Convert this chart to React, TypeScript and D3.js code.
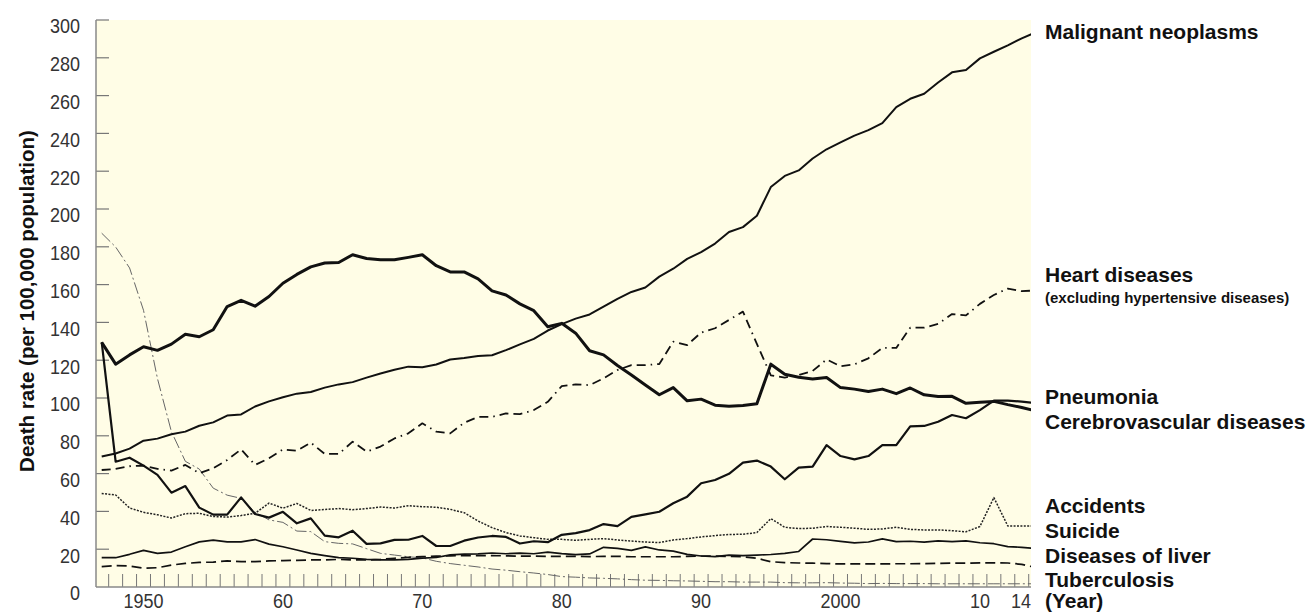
import React from "react";
import * as d3 from "d3";

const years: number[] = d3.range(1947, 2015);

const malignant: number[] = [
  69.0, 70.6, 73.2, 77.4, 78.5, 80.8, 82.2, 85.3, 87.1, 90.7, 91.3, 95.5, 98.2, 100.4, 102.3, 103.2, 105.5, 107.2, 108.4, 110.8,
  113.0, 114.9, 116.6, 116.3, 117.7, 120.4, 121.2, 122.2, 122.6, 125.3, 128.4, 131.3, 135.7, 139.1, 142.0, 144.2, 148.3, 152.5,
  156.1, 158.5, 164.2, 168.4, 173.6, 177.2, 181.7, 187.8, 190.4, 196.4, 211.6, 217.5, 220.4, 226.7, 231.6, 235.2, 238.8, 241.7,
  245.4, 253.9, 258.3, 261.0, 266.9, 272.3, 273.5, 279.7, 283.2, 286.6, 290.3, 293.5,
];

const cerebrovascular: number[] = [
  129.4, 117.9, 122.8, 127.1, 125.2, 128.5, 133.7, 132.4, 136.1, 148.4, 151.7, 148.6, 153.7, 160.7, 165.4, 169.4, 171.4, 171.7,
  175.8, 173.8, 173.1, 173.1, 174.4, 175.8, 170.0, 166.7, 166.7, 163.0, 156.7, 154.5, 149.8, 146.2, 137.7, 139.5, 134.3, 125.0,
  122.8, 117.2, 112.2, 106.9, 101.7, 105.5, 98.5, 99.4, 96.2, 95.6, 96.0, 96.9, 117.9, 112.6, 111.0, 110.0, 110.8, 105.5, 104.7,
  103.4, 104.7, 102.3, 105.3, 101.7, 100.8, 100.9, 97.2, 97.7, 98.2, 96.5, 95.0, 93.2,
];

const pneumonia: number[] = [
  129.6, 66.3, 68.4, 64.2, 59.3, 49.9, 53.4, 42.0, 38.3, 38.3, 47.4, 38.6, 36.7, 39.8, 33.7, 36.3, 27.2, 26.3, 29.8, 22.8, 23.1,
  24.9, 25.0, 27.0, 21.7, 21.7, 24.5, 26.2, 27.0, 26.5, 23.0, 24.2, 23.7, 27.6, 28.5, 30.1, 33.3, 32.2, 37.1, 38.4, 39.8, 44.3,
  47.8, 54.9, 56.6, 59.9, 65.8, 66.9, 63.7, 57.0, 63.2, 63.7, 75.1, 69.3, 67.5, 69.3, 75.1, 75.1, 85.0, 85.2, 87.4, 91.0, 89.3,
  93.6, 98.6, 98.6, 98.1, 97.3,
];

const heart: number[] = [
  61.9, 62.5, 63.9, 64.2, 62.5, 61.6, 64.6, 60.2, 62.8, 67.2, 72.8, 64.6, 68.1, 72.8, 72.1, 76.4, 70.4, 70.4, 76.9, 71.6, 74.3,
  78.6, 81.3, 86.6, 82.2, 81.3, 86.9, 90.0, 90.0, 91.8, 91.5, 93.6, 98.0, 106.3, 107.2, 106.8, 110.4, 114.8, 117.4, 117.4, 118.0,
  129.8, 128.0, 134.6, 136.9, 141.3, 145.7, 128.6, 112.0, 110.8, 112.2, 114.3, 120.4, 116.8, 117.8, 121.0, 126.5, 126.5, 137.2,
  137.2, 139.2, 144.4, 143.7, 149.8, 154.5, 157.9, 156.5, 156.9,
];

const accidents: number[] = [
  49.5, 48.7, 41.8, 39.5, 38.2, 36.5, 38.8, 39.0, 37.3, 37.0, 37.8, 39.0, 44.4, 41.7, 44.2, 40.5, 41.0, 41.5, 40.9, 41.5, 42.3,
  41.8, 43.0, 42.5, 42.2, 41.1, 39.3, 34.9, 31.4, 28.8, 27.0, 26.1, 25.2, 25.2, 24.7, 25.2, 25.6, 24.9, 24.3, 23.8, 23.5, 24.9,
  25.6, 26.5, 27.2, 27.8, 27.9, 28.8, 36.2, 31.6, 30.9, 31.1, 32.0, 31.6, 31.1, 30.5, 30.7, 31.6, 30.5, 30.2, 30.2, 29.8, 29.2,
  32.0, 47.3, 32.3, 32.3, 32.3,
];

const suicide: number[] = [
  15.5, 15.5, 17.3, 19.4, 17.8, 18.5, 21.3, 23.9, 24.8, 23.9, 23.9, 25.1, 22.7, 21.3, 19.6, 17.8, 16.6, 15.5, 15.2, 14.6, 14.3,
  14.3, 14.6, 15.3, 15.6, 17.0, 17.4, 17.5, 18.0, 17.6, 17.9, 17.6, 18.5, 17.7, 17.1, 17.5, 21.0, 20.4, 19.4, 21.2, 19.6, 19.0,
  17.3, 16.4, 16.1, 16.9, 16.6, 16.9, 17.2, 17.8, 18.8, 25.4, 25.0, 24.1, 23.3, 23.8, 25.5, 24.0, 24.2, 23.7, 24.4, 24.0, 24.4,
  23.4, 22.9, 21.4, 21.0, 20.4,
];

const liver: number[] = [
  10.8, 11.3, 11.1, 9.9, 10.2, 11.6, 12.5, 13.0, 13.2, 13.8, 13.4, 13.4, 13.8, 14.0, 14.1, 14.3, 14.3, 14.6, 14.3, 14.3, 14.6,
  15.2, 15.7, 16.1, 16.3, 16.5, 16.6, 16.6, 16.6, 16.5, 16.3, 16.3, 16.2, 16.2, 16.2, 16.1, 16.2, 16.2, 16.0, 16.0, 16.0, 16.0,
  16.2, 16.4, 16.3, 16.2, 16.0, 15.2, 13.4, 12.9, 12.7, 12.6, 12.4, 12.2, 12.2, 12.2, 12.2, 12.3, 12.3, 12.4, 12.5, 12.6, 12.6,
  12.8, 12.8, 12.7, 12.0, 10.3,
];

const tuberculosis: number[] = [
  187.2, 179.9, 168.8, 146.4, 110.3, 82.2, 66.5, 62.4, 52.3, 48.6, 46.9, 39.6, 35.5, 34.2, 29.6, 29.3, 24.0, 23.1, 22.8, 20.3,
  17.8, 16.9, 16.0, 15.4, 13.6, 12.4, 11.5, 10.6, 9.5, 8.9, 8.1, 7.4, 6.6, 5.5, 5.2, 4.8, 4.6, 4.3, 3.9, 3.6, 3.5, 3.3, 3.2, 3.0,
  2.8, 2.8, 2.6, 2.6, 2.6, 2.3, 2.2, 2.2, 2.3, 2.1, 2.0, 1.8, 1.9, 1.8, 1.8, 1.8, 1.7, 1.7, 1.7, 1.7, 1.7, 1.7, 1.7, 1.7,
];

const yTicks: number[] = [0, 20, 40, 60, 80, 100, 120, 140, 160, 180, 200, 220, 240, 260, 280, 300];
const xTickYears: number[] = [1950, 1960, 1970, 1980, 1990, 2000, 2010, 2014];
const xTickLabels: string[] = ["1950", "60", "70", "80", "90", "2000", "10", "14"];

const seriesNames: string[] = [
  "Tuberculosis",
  "Diseases of liver",
  "Suicide",
  "Accidents",
  "Heart diseases",
  "Malignant neoplasms",
  "Pneumonia",
  "Cerebrovascular diseases",
];

const labelTexts: string[] = [
  "Malignant neoplasms",
  "Heart diseases",
  "(excluding hypertensive diseases)",
  "Pneumonia",
  "Cerebrovascular diseases",
  "Accidents",
  "Suicide",
  "Diseases of liver",
  "Tuberculosis",
  "(Year)",
];
const labelLevels: number[] = [289.8, 161.5, 150.3, 96.6, 83.8, 39.0, 25.8, 12.9, 0.2, -11.1];

const W = 1309;
const H = 613;

export default function App() {
  const plotLeft = 96;
  const plotRight = 1031;
  const x = d3.scaleLinear().domain([1947, 2014]).range([101.7, 101.7 + 67 * 13.94]);
  const y = d3.scaleLinear().domain([0, 300]).range([587, 20]);

  const line = d3
    .line<number>()
    .x((_d, i) => x(years[i]))
    .y((d) => y(d));

  const styles: Record<string, { data: number[]; w: number; dash?: string; color: string }> = {
    Tuberculosis: { data: tuberculosis, w: 1, dash: "12,3,2,3", color: "#666" },
    "Diseases of liver": { data: liver, w: 1.7, dash: "10,5", color: "#111" },
    Suicide: { data: suicide, w: 1.7, color: "#111" },
    Accidents: { data: accidents, w: 1.5, dash: "2,1.4", color: "#222" },
    "Heart diseases": { data: heart, w: 1.8, dash: "9,5,9,5,1.5,5", color: "#111" },
    "Malignant neoplasms": { data: malignant, w: 2, color: "#111" },
    Pneumonia: { data: pneumonia, w: 2.2, color: "#111" },
    "Cerebrovascular diseases": { data: cerebrovascular, w: 3, color: "#111" },
  };

  const minorTicks = d3.range(1947.5, 2014, 1);

  return (
    <svg
      width={W}
      height={H}
      style={{ position: "absolute", left: 0, top: 0, display: "block", background: "#fff" }}
      fontFamily="'Liberation Sans', Arial, sans-serif"
    >
      <defs>
        <clipPath id="plotClip">
          <rect x={plotLeft} y={0} width={plotRight - plotLeft} height={H} />
        </clipPath>
      </defs>
      <rect x={plotLeft} y={y(300)} width={plotRight - plotLeft} height={y(0) - y(300)} fill="#FFFDE6" />

      {minorTicks.map((t) => (
        <line key={t} x1={x(t)} x2={x(t)} y1={y(0) - 13} y2={y(0)} stroke="#777" strokeWidth={1} />
      ))}

      {yTicks.map((t) => (
        <g key={t}>
          {t > 0 && <line x1={plotLeft} x2={plotLeft + 13} y1={y(t)} y2={y(t)} stroke="#777" strokeWidth={1.2} />}
          <text
            x={80}
            y={y(t) + 13.5}
            textAnchor="end"
            fontSize={18}
            fill="#333"
            transform={`translate(0,${y(t) + 13.5}) scale(1,1.08) translate(0,${-(y(t) + 13.5)})`}
          >
            {t}
          </text>
        </g>
      ))}

      <line x1={plotLeft} x2={plotLeft} y1={y(300)} y2={y(0)} stroke="#888" strokeWidth={1.5} />
      <line x1={plotLeft} x2={plotRight} y1={y(0)} y2={y(0)} stroke="#888" strokeWidth={1.5} />

      <g clipPath="url(#plotClip)">
        {seriesNames.map((name) => {
          const s = styles[name];
          return (
            <path
              key={name}
              d={line(s.data) || ""}
              fill="none"
              stroke={s.color}
              strokeWidth={s.w}
              strokeDasharray={s.dash}
              strokeLinejoin="round"
            />
          );
        })}
      </g>

      {xTickYears.map((yr, i) => {
        const last = i === xTickYears.length - 1;
        return (
          <text
            key={yr}
            x={last ? Math.min(x(yr), plotRight) : x(yr)}
            y={608}
            textAnchor={last ? "end" : "middle"}
            fontSize={18}
            fill="#333"
            transform={`translate(0,608) scale(1,1.08) translate(0,-608)`}
          >
            {xTickLabels[i]}
          </text>
        );
      })}

      <text
        transform={`translate(26,301) rotate(-90)`}
        textAnchor="middle"
        dominantBaseline="central"
        fontSize={20.5}
        fontWeight="bold"
        fill="#111"
      >
        Death rate (per 100,000 population)
      </text>

      {labelTexts.map((t, i) => (
        <text
          key={t}
          x={1045}
          y={y(labelLevels[i])}
          fontSize={t.startsWith("(excluding") ? 15 : 21}
          fontWeight="bold"
          fill="#111"
        >
          {t}
        </text>
      ))}
    </svg>
  );
}
